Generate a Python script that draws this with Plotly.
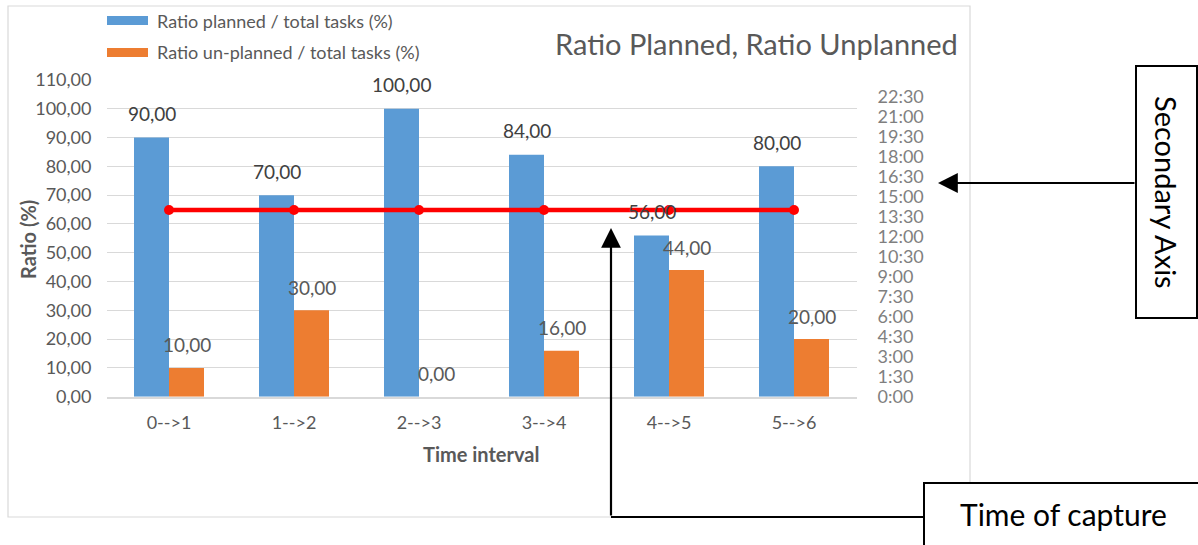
import plotly.graph_objects as go

# ---- data -------------------------------------------------------------
intervals = ["0-->1", "1-->2", "2-->3", "3-->4", "4-->5", "5-->6"]
ratio_planned = [90, 70, 100, 84, 56, 80]
ratio_unplanned = [10, 30, 0, 16, 44, 20]
capture_times = ["14:00", "14:00", "14:00", "14:00", "14:00", "14:00"]
time_tick_labels = ["0:00", "1:30", "3:00", "4:30", "6:00", "7:30", "9:00",
                    "10:30", "12:00", "13:30", "15:00", "16:30", "18:00",
                    "19:30", "21:00", "22:30"]

# ---- helpers ----------------------------------------------------------
W, H = 1198, 545
FONT = "Lato"
GRAY = "#595959"
BLUE = "#5B9BD5"
ORANGE = "#ED7D31"


def to_hours(s):
    h, m = s.split(":")
    return int(h) + int(m) / 60.0


def px(x):
    return x / W


def py(y):
    return 1 - y / H


def fmt(v):
    return f"{v:.2f}".replace(".", ",")


def label(x, y, text, size, color=GRAY, xanchor="center", angle=0):
    return dict(x=px(x), y=py(y), xref="paper", yref="paper", text=text,
                xanchor=xanchor, yanchor="middle", textangle=angle,
                showarrow=False, font=dict(family=FONT, size=size, color=color))


fig = go.Figure()

fig.add_trace(go.Bar(
    x=intervals, y=ratio_planned, name="Ratio planned / total tasks (%)",
    marker=dict(color=BLUE, line=dict(width=0)), showlegend=False,
))
fig.add_trace(go.Bar(
    x=intervals, y=ratio_unplanned, name="Ratio un-planned / total tasks (%)",
    marker=dict(color=ORANGE, line=dict(width=0)), showlegend=False,
))
fig.add_trace(go.Scatter(
    x=intervals, y=[to_hours(t) for t in capture_times], yaxis="y2",
    mode="lines+markers", name="Time of capture",
    line=dict(color="#FF0000", width=4.5), marker=dict(color="#FF0000", size=10),
    showlegend=False,
))

annotations = []
# value labels above the bars
for cat, v in zip(intervals, ratio_planned):
    annotations.append(dict(
        x=cat, y=v, xref="x", yref="y", text=fmt(v), showarrow=False,
        xanchor="center", yanchor="middle",
        xshift=-17.5, yshift=24, font=dict(family=FONT, size=19, color="#404040"),
    ))
for cat, v in zip(intervals, ratio_unplanned):
    annotations.append(dict(
        x=cat, y=v, xref="x", yref="y", text=fmt(v), showarrow=False,
        xanchor="center", yanchor="middle",
        xshift=17.5, yshift=23, font=dict(family=FONT, size=19, color=GRAY),
    ))

# axis titles
annotations.append(label(28, 240, "<b>Ratio (%)</b>", 20, angle=-90))
annotations.append(label(481, 454, "<b>Time interval</b>", 20))

# chart title
annotations.append(label(960, 43, "Ratio Planned, Ratio Unplanned", 29,
                         xanchor="right"))

# legend text
annotations.append(label(155, 21, "Ratio planned / total tasks (%)", 18,
                         xanchor="left"))
annotations.append(label(155, 52, "Ratio un-planned / total tasks (%)", 18,
                         xanchor="left"))

# callout labels
annotations.append(label(1167, 192, "Secondary Axis", 29, color="#000000",
                         angle=90))
annotations.append(label(1063, 514, "Time of capture", 30, color="#000000"))

# callout arrows
annotations.append(dict(
    x=px(938), y=py(183), xref="paper", yref="paper", text="",
    showarrow=True, ax=1136 - 938, ay=0, axref="pixel", ayref="pixel",
    arrowhead=2, arrowsize=1.8, arrowwidth=2.2, arrowcolor="#000000",
))
annotations.append(dict(
    x=px(611), y=py(228), xref="paper", yref="paper", text="",
    showarrow=True, ax=0, ay=517 - 228, axref="pixel", ayref="pixel",
    arrowhead=2, arrowsize=1.8, arrowwidth=2.2, arrowcolor="#000000",
))

shapes = [
    # chart area border
    dict(type="rect", xref="paper", yref="paper", x0=px(8), x1=px(970),
         y0=py(517), y1=py(6), line=dict(color="#D9D9D9", width=1.2),
         layer="below"),
    # legend keys
    dict(type="rect", xref="paper", yref="paper", x0=px(107), x1=px(148),
         y0=py(25), y1=py(16), line=dict(width=0), fillcolor=BLUE),
    dict(type="rect", xref="paper", yref="paper", x0=px(107), x1=px(148),
         y0=py(57), y1=py(48), line=dict(width=0), fillcolor=ORANGE),
    # callout boxes
    dict(type="rect", xref="paper", yref="paper", x0=px(1136), x1=px(1197),
         y0=py(318), y1=py(66), line=dict(color="#000000", width=2),
         fillcolor="white"),
    dict(type="rect", xref="paper", yref="paper", x0=px(924), x1=px(1210),
         y0=py(560), y1=py(483), line=dict(color="#000000", width=2),
         fillcolor="white"),
    # connector from the lower callout
    dict(type="line", xref="paper", yref="paper", x0=px(611), x1=px(924),
         y0=py(517), y1=py(517), line=dict(color="#000000", width=2.2)),
]

fig.update_layout(
    width=W, height=H, margin=dict(l=0, r=0, t=0, b=0, autoexpand=False),
    paper_bgcolor="white", plot_bgcolor="white",
    separators=",.",
    barmode="group", bargap=0.44, bargroupgap=0,
    font=dict(family=FONT, color=GRAY),
    xaxis=dict(
        domain=[px(106.5), px(856.5)], showgrid=False, showline=True,
        linecolor="#D9D9D9", linewidth=1.5, ticks="", automargin=False,
        tickfont=dict(family=FONT, size=18, color=GRAY), ticklabelstandoff=9,
    ),
    yaxis=dict(
        domain=[py(396.7), py(80)], range=[0, 110], dtick=10,
        tickformat=".2f", showgrid=True, gridcolor="#D9D9D9", gridwidth=1.2,
        zeroline=False, showline=False, ticks="", automargin=False,
        tickfont=dict(family=FONT, size=18, color=GRAY), ticklabelstandoff=14,
    ),
    yaxis2=dict(
        overlaying="y", side="right", range=[0, 23.75],
        tickvals=[to_hours(t) for t in time_tick_labels],
        ticktext=time_tick_labels, showgrid=False, zeroline=False,
        showline=False, ticks="", automargin=False,
        tickfont=dict(family=FONT, size=18, color="#7F7F7F"),
        ticklabelstandoff=20,
    ),
    annotations=annotations,
    shapes=shapes,
)

fig.write_html("out.html")
